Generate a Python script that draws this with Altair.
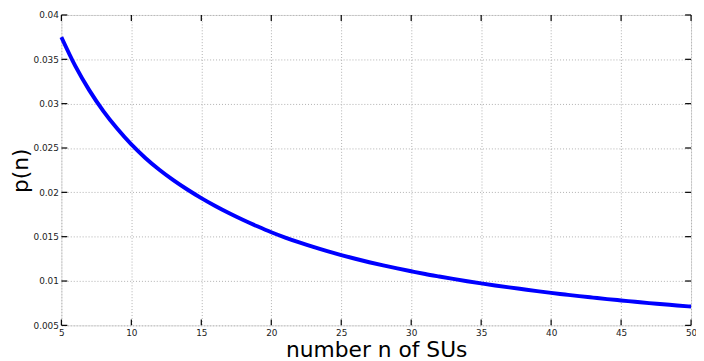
import altair as alt
import pandas as pd

n_values = list(range(5, 51))
p_values = [0.03750, 0.03423, 0.03150, 0.02916, 0.02716, 0.02540,
            0.02388, 0.02255, 0.02138, 0.02032, 0.01935,
            0.01846, 0.01764, 0.01688, 0.01617, 0.01550,
            0.01490, 0.01435, 0.01384, 0.01337, 0.01293,
            0.01251, 0.01212, 0.01176, 0.01142, 0.01110,
            0.01079, 0.01051, 0.01024, 0.00998, 0.00973,
            0.00950, 0.00928, 0.00907, 0.00886, 0.00866,
            0.00848, 0.00830, 0.00813, 0.00796, 0.00781,
            0.00766, 0.00751, 0.00738, 0.00724, 0.00712]
x_ticks = [5, 10, 15, 20, 25, 30, 35, 40, 45, 50]
y_ticks = [0.005, 0.01, 0.015, 0.02, 0.025, 0.03, 0.035, 0.04]

df = pd.DataFrame({"n": n_values, "p": p_values})
xt = pd.DataFrame({"t": x_ticks})
yt = pd.DataFrame({"t": y_ticks})

W, H = 637, 314
FONT = "DejaVu Sans"

xscale = alt.Scale(domain=[5, 50], nice=False, zero=False)
yscale = alt.Scale(domain=[0.005, 0.04], nice=False, zero=False)

xaxis = alt.Axis(values=x_ticks, ticks=False, domain=False, labelPadding=3,
                 labelFontSize=9, labelFont=FONT, labelColor="#222",
                 grid=True, gridColor="#b0b0b0", gridDash=[1, 2], gridWidth=1,
                 title="number n of SUs", titleFont=FONT, titleFontSize=22,
                 titleFontWeight="normal", titleColor="#000", titlePadding=2,
                 labelFlush=False)
yaxis = alt.Axis(values=y_ticks, ticks=False, domain=False, labelPadding=3,
                 labelFontSize=9, labelFont=FONT, labelColor="#222",
                 grid=True, gridColor="#b0b0b0", gridDash=[1, 2], gridWidth=1,
                 title="p(n)", titleFont=FONT, titleFontSize=22,
                 titleFontWeight="normal", titleColor="#000", titlePadding=1,
                 labelExpr="format(datum.value, '.3~f')")

line = alt.Chart(df).mark_line(color="#0000ff", strokeWidth=4,
                               interpolate="monotone").encode(
    x=alt.X("n:Q", scale=xscale, axis=xaxis),
    y=alt.Y("p:Q", scale=yscale, axis=yaxis),
)

tick_style = dict(color="#000", strokeWidth=1.2)
xt_bottom = alt.Chart(xt).mark_rule(**tick_style).encode(
    x=alt.X("t:Q", scale=xscale), y=alt.value(H), y2=alt.value(H - 6))
xt_top = alt.Chart(xt).mark_rule(**tick_style).encode(
    x=alt.X("t:Q", scale=xscale), y=alt.value(0), y2=alt.value(6))
yt_left = alt.Chart(yt).mark_rule(**tick_style).encode(
    y=alt.Y("t:Q", scale=yscale), x=alt.value(0), x2=alt.value(6))
yt_right = alt.Chart(yt).mark_rule(**tick_style).encode(
    y=alt.Y("t:Q", scale=yscale), x=alt.value(W), x2=alt.value(W - 6))

chart = alt.layer(line, xt_bottom, xt_top, yt_left, yt_right).properties(
    width=W, height=H,
    autosize=alt.AutoSizeParams(type="none"),
    padding={"left": 54, "top": 5, "right": 5, "bottom": 34},
).configure_view(stroke="#000", strokeWidth=1.5).configure(background="white")

chart.save("out.html", embed_options={"renderer": "svg", "actions": False})
